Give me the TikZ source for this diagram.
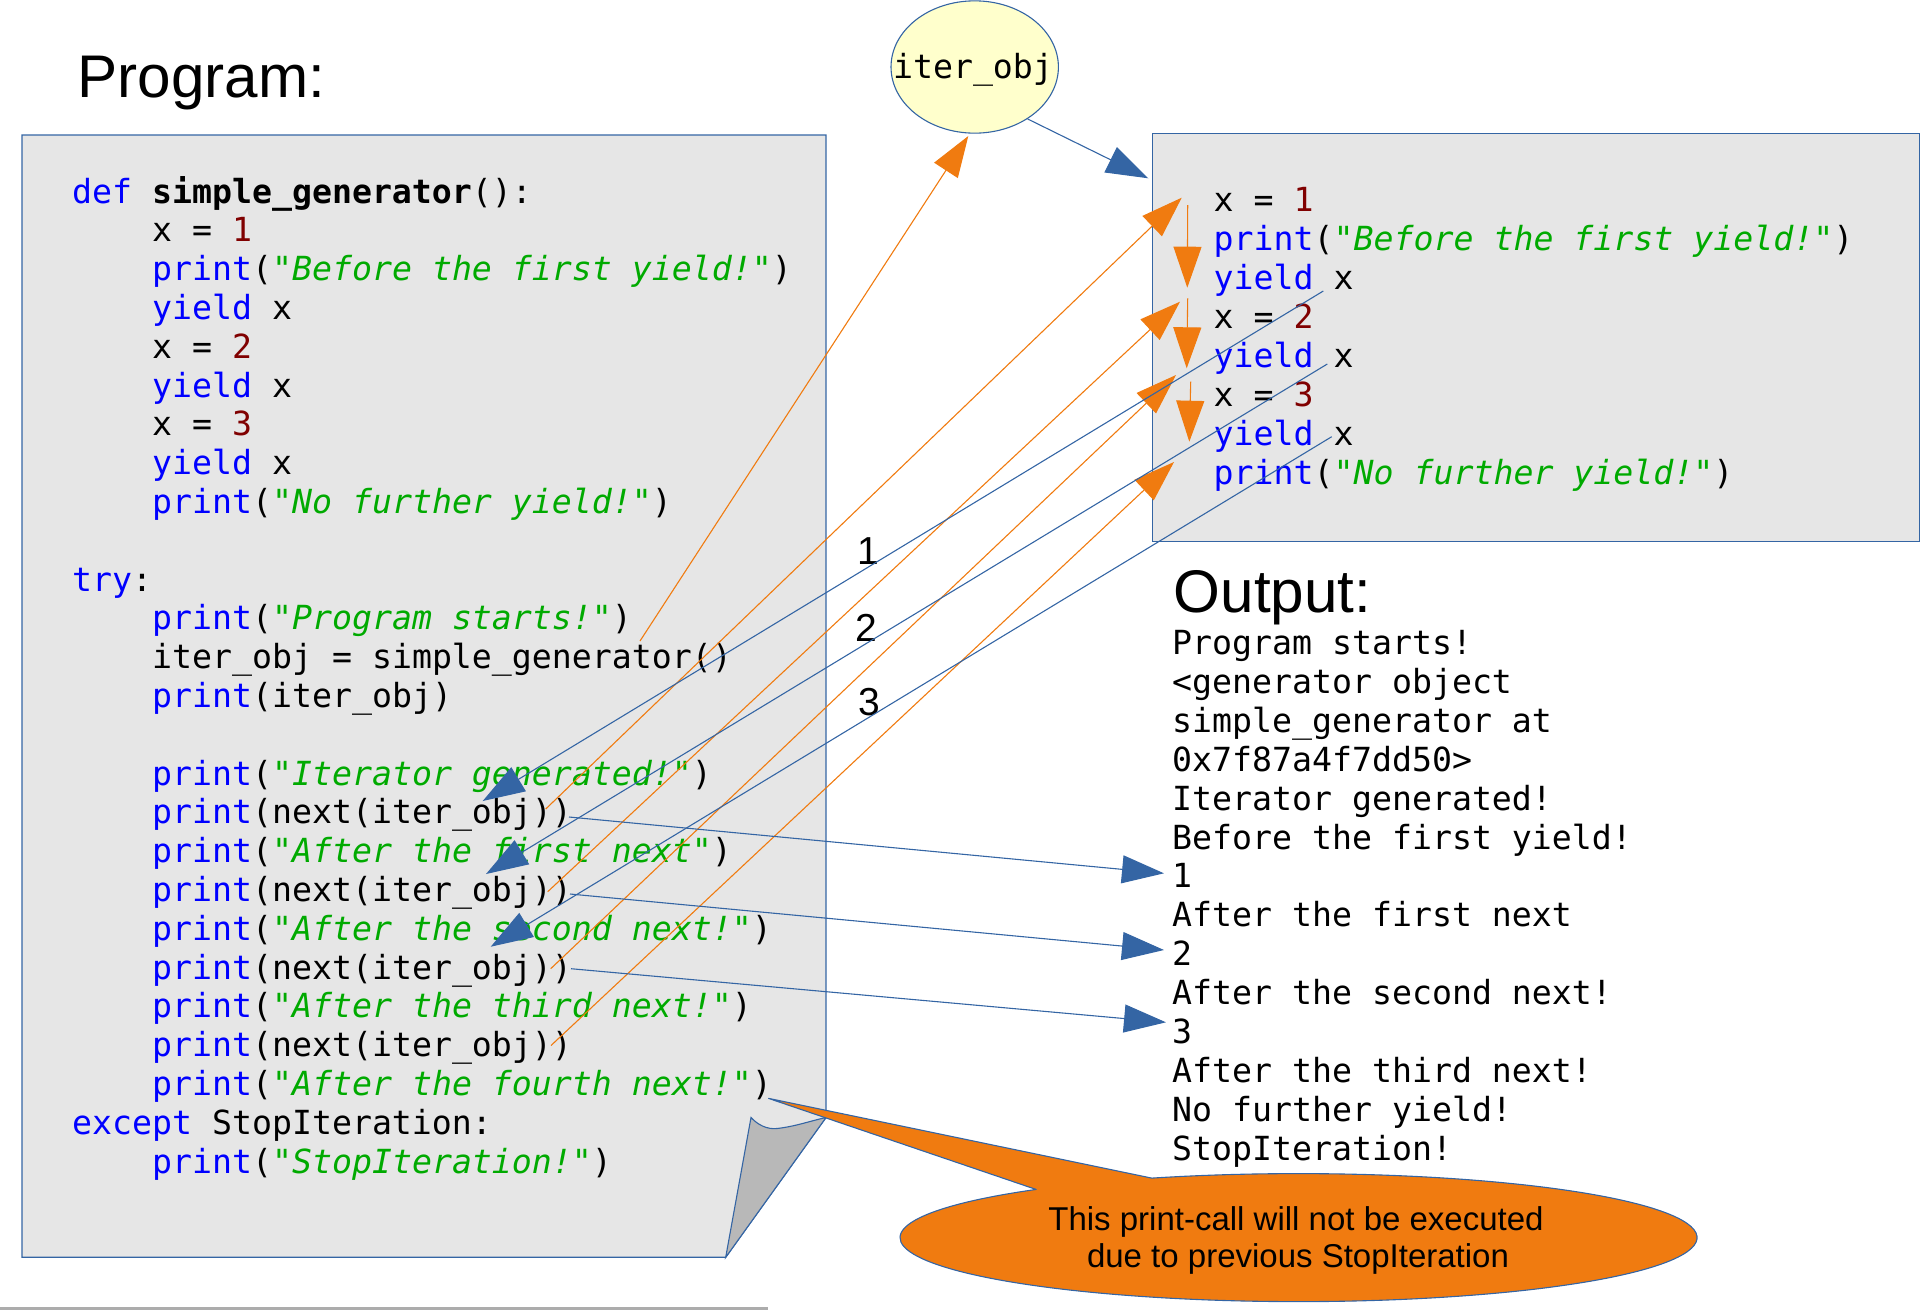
\documentclass[tikz,border=0pt]{standalone}
\usepackage{fontspec}
\setmainfont{Liberation Sans}
\setmonofont{DejaVu Sans Mono}[ItalicFont={DejaVu Sans Mono Oblique},BoldFont={DejaVu Sans Mono Bold}]
\usetikzlibrary{arrows.meta,shapes.geometric}

\definecolor{kwblue}{RGB}{0,0,255}
\definecolor{strgreen}{RGB}{0,170,0}
\definecolor{numred}{RGB}{128,0,0}
\definecolor{boxfill}{RGB}{230,230,230}
\definecolor{lineblue}{RGB}{52,101,164}
\definecolor{flapgray}{RGB}{184,184,184}
\definecolor{noteorange}{RGB}{240,123,16}
\definecolor{objfill}{RGB}{255,255,204}

\newcommand\codefont{\ttfamily\fontsize{33.2}{38.8}\selectfont}
\newcommand\titlefont{\fontsize{60.2}{68}\selectfont}
\newcommand\markfont{\fontsize{39}{44}\selectfont}
\newcommand\notefont{\fontsize{33}{37}\selectfont}
\newcommand\cKw[1]{\textcolor{kwblue}{#1}}
\newcommand\cStr[1]{\textcolor{strgreen}{\itshape #1}}
\newcommand\cNum[1]{\textcolor{numred}{#1}}

\tikzset{
  code/.style={anchor=base west, inner sep=0pt, font=\codefont},
  title/.style={anchor=base west, inner sep=0pt, font=\titlefont},
  stepmark/.style={anchor=base, inner sep=0pt, font=\markfont},
  notetext/.style={anchor=base, inner sep=0pt, font=\notefont},
  panel/.style={draw=lineblue, fill=boxfill, line width=1.2pt},
  blueflow/.style={draw=lineblue, line width=1.1pt, -{Triangle[length=42pt,width=28pt]}},
  orangeflow/.style={draw=noteorange, line width=1.1pt, -{Triangle[length=41pt,width=28pt]}},
}

\begin{document}
\frenchspacing
\begin{tikzpicture}[x=1pt,y=1pt]
\useasboundingbox (0,0) rectangle (1932,-1310);

% titles
\node[title] (progtitle) at (77.5,-97.6) {Program:};
\node[title] (outtitle) at (1173.5,-612) {Output:};

% program sheet with folded corner
\draw[panel] (22,-135) -- (826,-135) -- (826,-1117.5) -- (725.7,-1257.3) -- (22,-1257.3) -- cycle;
\draw[draw=lineblue, fill=flapgray, line width=1.1pt]
  (751,-1117.5) .. controls (758,-1125) and (767,-1129.5) .. (777,-1128.5)
  .. controls (795,-1126.5) and (810,-1121) .. (826,-1117.5)
  -- (725.7,-1257.3) -- cycle;
\draw[gray!65, line width=3pt] (0,-1308.5) -- (768,-1308.5);

% program text
\node[code] (l0)  at (72,-203)    {\cKw{def} \textbf{simple\_generator}():};
\node[code] (l1)  at (152,-241.8) {x = \cNum{1}};
\node[code] (l2)  at (152,-280.6) {\cKw{print}(\cStr{"Before the first yield!"})};
\node[code] (l3)  at (152,-319.4) {\cKw{yield} x};
\node[code] (l4)  at (152,-358.2) {x = \cNum{2}};
\node[code] (l5)  at (152,-397)   {\cKw{yield} x};
\node[code] (l6)  at (152,-435.8) {x = \cNum{3}};
\node[code] (l7)  at (152,-474.6) {\cKw{yield} x};
\node[code] (l8)  at (152,-513.4) {\cKw{print}(\cStr{"No further yield!"})};
\node[code] (l10) at (72,-591)    {\cKw{try}:};
\node[code] (l11) at (152,-629.8) {\cKw{print}(\cStr{"Program starts!"})};
\node[code] (l12) at (152,-668.6) {iter\_obj = simple\_generator()};
\node[code] (l13) at (152,-707.4) {\cKw{print}(iter\_obj)};
\node[code] (l15) at (152,-785)   {\cKw{print}(\cStr{"Iterator generated!"})};
\node[code] (l16) at (152,-823.8) {\cKw{print}(next(iter\_obj))};
\node[code] (l17) at (152,-862.6) {\cKw{print}(\cStr{"After the first next"})};
\node[code] (l18) at (152,-901.4) {\cKw{print}(next(iter\_obj))};
\node[code] (l19) at (152,-940.2) {\cKw{print}(\cStr{"After the second next!"})};
\node[code] (l20) at (152,-979)   {\cKw{print}(next(iter\_obj))};
\node[code] (l21) at (152,-1017.8){\cKw{print}(\cStr{"After the third next!"})};
\node[code] (l22) at (152,-1056.6){\cKw{print}(next(iter\_obj))};
\node[code] (l23) at (152,-1095.4){\cKw{print}(\cStr{"After the fourth next!"})};
\node[code] (l24) at (72,-1134.2) {\cKw{except} StopIteration:};
\node[code] (l25) at (152,-1173)  {\cKw{print}(\cStr{"StopIteration!"})};

% generator body panel
\node[panel, anchor=north west, inner sep=0pt, minimum width=766.9pt, minimum height=407.8pt] (genbox) at (1151.7,-133) {};
\node[code] (r0) at (1213.5,-211.7) {x = \cNum{1}};
\node[code] (r1) at (1213.5,-250.6) {\cKw{print}(\cStr{"Before the first yield!"})};
\node[code] (r2) at (1213.5,-289.5) {\cKw{yield} x};
\node[code] (r3) at (1213.5,-328.4) {x = \cNum{2}};
\node[code] (r4) at (1213.5,-367.3) {\cKw{yield} x};
\node[code] (r5) at (1213.5,-406.2) {x = \cNum{3}};
\node[code] (r6) at (1213.5,-445.1) {\cKw{yield} x};
\node[code] (r7) at (1213.5,-484)   {\cKw{print}(\cStr{"No further yield!"})};

% output listing
\node[code] (o0)  at (1172,-654.5)  {Program starts!};
\node[code] (o1)  at (1172,-693.4)  {<generator object};
\node[code] (o2)  at (1172,-732.3)  {simple\_generator at};
\node[code] (o3)  at (1172,-771.2)  {0x7f87a4f7dd50>};
\node[code] (o4)  at (1172,-810.1)  {Iterator generated!};
\node[code] (o5)  at (1172,-849)    {Before the first yield!};
\node[code] (o6)  at (1172,-887.9)  {1};
\node[code] (o7)  at (1172,-926.8)  {After the first next};
\node[code] (o8)  at (1172,-965.7)  {2};
\node[code] (o9)  at (1172,-1004.6) {After the second next!};
\node[code] (o10) at (1172,-1043.5) {3};
\node[code] (o11) at (1172,-1082.4) {After the third next!};
\node[code] (o12) at (1172,-1121.3) {No further yield!};
\node[code] (o13) at (1172,-1160.2) {StopIteration!};

% generator object
\node[ellipse, draw=lineblue, fill=objfill, line width=1.1pt, inner sep=0pt,
      minimum width=167.4pt, minimum height=132.3pt] (iterobj) at (974.7,-67) {};
\node[anchor=base, inner sep=0pt, font=\codefont] (iterlabel) at (973,-78.3) {iter\_obj};

% step numbers
\node[stepmark] (s1) at (868,-564.3) {1};
\node[stepmark] (s2) at (866.3,-641) {2};
\node[stepmark] (s3) at (869.5,-715) {3};

% connector end points
\coordinate (objout)  at (1027.7,-119);
\coordinate (boxin)   at (1148.3,-178.3);
\coordinate (callsrc) at (640,-641);
\coordinate (objin)   at (968.3,-136);
\coordinate (n1a) at (545.7,-809);   \coordinate (n1b) at (569,-817);
\coordinate (n2a) at (547.7,-891.7); \coordinate (n2b) at (570,-894);
\coordinate (n3a) at (550.7,-968.7); \coordinate (n3b) at (571,-968.7);
\coordinate (n4a) at (551,-1045.5);
\coordinate (g1) at (1181.7,-197.7);
\coordinate (g2) at (1180,-301.7);
\coordinate (g3) at (1176,-375);
\coordinate (g4) at (1174,-462);
\coordinate (y1) at (1323.3,-291);
\coordinate (y2) at (1327.3,-364);
\coordinate (y3) at (1331.7,-436.7);
\coordinate (p1) at (482.7,-801);
\coordinate (p2) at (486,-874);
\coordinate (p3) at (490.7,-946.7);
\coordinate (v1) at (1164,-873.3);
\coordinate (v2) at (1164,-950);
\coordinate (v3) at (1166,-1022.3);
\coordinate (d1a) at (1187.7,-205);   \coordinate (d1b) at (1187.3,-287.7);
\coordinate (d2a) at (1187.7,-298.3); \coordinate (d2b) at (1186.7,-368.3);
\coordinate (d3a) at (1190.7,-381.7); \coordinate (d3b) at (1189.3,-441.7);

% control flow into the generator
\draw[orangeflow] (callsrc) -- (objin);
\draw[orangeflow] (n1a) -- (g1);
\draw[orangeflow] (n2a) -- (g2);
\draw[orangeflow] (n3a) -- (g3);
\draw[orangeflow] (n4a) -- (g4);
\draw[orangeflow] (d1a) -- (d1b);
\draw[orangeflow] (d2a) -- (d2b);
\draw[orangeflow] (d3a) -- (d3b);

% values handed back
\draw[blueflow] (objout) -- (boxin);
\draw[blueflow] (y1) -- (p1);
\draw[blueflow] (y2) -- (p2);
\draw[blueflow] (y3) -- (p3);
\draw[blueflow] (n1b) -- (v1);
\draw[blueflow] (n2b) -- (v2);
\draw[blueflow] (n3b) -- (v3);

% callout
\coordinate (notetip) at (768.3,-1098.3);
\draw[draw=lineblue, fill=noteorange, line width=1.1pt]
  (1036,-1189.4) -- (notetip) -- (1151.8,-1178.1)
  arc[start angle=111.6, end angle=-228.8, x radius=398.5, y radius=64] -- cycle;
\node[notetext] (note1) at (1296,-1230.8) {This print-call will not be executed};
\node[notetext] (note2) at (1298,-1267.3) {due to previous StopIteration};
\end{tikzpicture}
\end{document}
